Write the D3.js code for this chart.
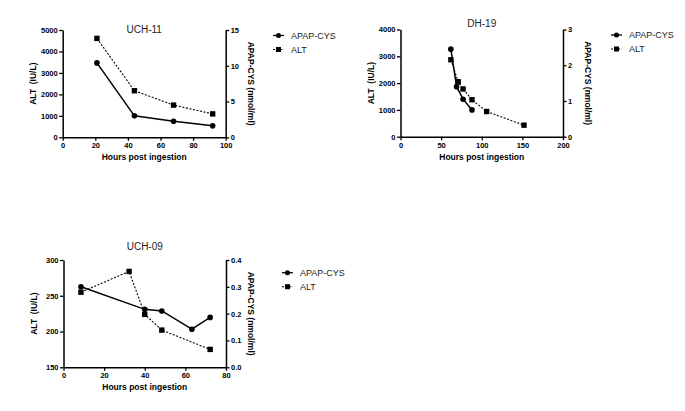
<!DOCTYPE html>
<html>
<head>
<meta charset="utf-8">
<script src="https://cdn.jsdelivr.net/npm/d3@7/dist/d3.min.js"></script>
<style>
  html, body { margin: 0; padding: 0; background: #ffffff; }
  svg { display: block; font-family: Arial, "Liberation Sans", sans-serif; }
</style>
</head>
<body>
<svg id="chart" width="685" height="411"></svg>
<script>
// ---------------- DATA ----------------
const seriesNames = ["APAP-CYS", "ALT"];

// UCH-11
const uch11ApapHours = [21, 44, 68, 92];
const uch11Apap      = [10.4, 3.0, 2.25, 1.6];
const uch11AltHours  = [21, 44, 68, 92];
const uch11Alt       = [4610, 2170, 1500, 1090];
const uch11XTicks    = [0, 20, 40, 60, 80, 100];
const uch11AltTicks  = [0, 1000, 2000, 3000, 4000, 5000];
const uch11ApapTicks = [0, 5, 10, 15];

// DH-19
const dh19ApapHours = [62, 69, 77, 88];
const dh19Apap      = [2.45, 1.4, 1.05, 0.75];
const dh19AltHours  = [62, 71, 77, 88, 106, 152];
const dh19Alt       = [2870, 2050, 1780, 1380, 940, 430];
const dh19XTicks    = [0, 50, 100, 150, 200];
const dh19AltTicks  = [0, 1000, 2000, 3000, 4000];
const dh19ApapTicks = [0, 1, 2, 3];

// UCH-09
const uch09ApapHours = [8.6, 40, 48.4, 63.2, 72.2];
const uch09Apap      = [0.30, 0.216, 0.21, 0.142, 0.186];
const uch09AltHours  = [8.6, 32.3, 40, 48.4, 72.2];
const uch09Alt       = [255, 284, 224, 202, 175];
const uch09XTicks    = [0, 20, 40, 60, 80];
const uch09AltTicks  = [150, 200, 250, 300];
const uch09ApapTicks = [0.0, 0.1, 0.2, 0.3, 0.4];

// ---------------- DRAW ----------------
const svg = d3.select("#chart");

function drawPanel(cfg) {
  const g = svg.append("g");
  const x = d3.scaleLinear().domain(d3.extent(cfg.xTicks)).range([cfg.left, cfg.right]);
  const yL = d3.scaleLinear().domain(d3.extent(cfg.altTicks)).range([cfg.bottom, cfg.top]);
  const yR = d3.scaleLinear().domain(d3.extent(cfg.apapTicks)).range([cfg.bottom, cfg.top]);

  const styleAxis = sel => {
    sel.select(".domain").attr("stroke", "#000").attr("stroke-width", 1.5);
    sel.selectAll(".tick line").attr("stroke", "#000").attr("stroke-width", 1.3);
    sel.selectAll(".tick text").attr("font-size", "7.5px").attr("font-weight", "bold")
       .attr("fill", "#000").attr("font-family", "Arial, 'Liberation Sans', sans-serif");
  };

  g.append("g").attr("transform", `translate(0,${cfg.bottom})`)
    .call(d3.axisBottom(x).tickValues(cfg.xTicks).tickFormat(d3.format("d")).tickSize(3.5).tickSizeOuter(0).tickPadding(2))
    .call(styleAxis);
  g.append("g").attr("transform", `translate(${cfg.left},0)`)
    .call(d3.axisLeft(yL).tickValues(cfg.altTicks).tickFormat(d3.format("d")).tickSize(3.5).tickSizeOuter(0).tickPadding(1.5))
    .call(styleAxis);
  g.append("g").attr("transform", `translate(${cfg.right},0)`)
    .call(d3.axisRight(yR).tickValues(cfg.apapTicks).tickFormat(cfg.apapFmt).tickSize(3.5).tickSizeOuter(0).tickPadding(1.5))
    .call(styleAxis);

  // titles
  g.append("text").attr("x", (cfg.left + cfg.right) / 2).attr("y", cfg.titleY)
    .attr("text-anchor", "middle").attr("font-size", "10px").attr("fill", "#222").text(cfg.title);
  g.append("text").attr("x", (cfg.left + cfg.right) / 2).attr("y", cfg.bottom + 23)
    .attr("text-anchor", "middle").attr("font-size", "8.5px").attr("font-weight", "bold").text("Hours post ingestion");
  const cy = (cfg.top + cfg.bottom) / 2;
  g.append("text").attr("transform", `translate(${cfg.left - 27},${cy}) rotate(-90)`)
    .attr("text-anchor", "middle").attr("font-size", "8.5px").attr("font-weight", "bold")
    .style("white-space", "pre").text("ALT  (IU/L)");
  g.append("text").attr("transform", `translate(${cfg.right + 22},${cy}) rotate(90)`)
    .attr("text-anchor", "middle").attr("font-size", "8.5px").attr("font-weight", "bold")
    .text("APAP-CYS (nmol/ml)");

  // ALT series (dashed, squares) on left axis
  const altPts = cfg.altHours.map((h, i) => [x(h), yL(cfg.alt[i])]);
  g.append("path").attr("d", d3.line()(altPts)).attr("fill", "none")
    .attr("stroke", "#000").attr("stroke-width", 1.1).attr("stroke-dasharray", "2,1.6");
  g.selectAll(null).data(altPts).enter().append("rect")
    .attr("x", d => d[0] - 2.7).attr("y", d => d[1] - 2.7).attr("width", 5.4).attr("height", 5.4).attr("fill", "#000");

  // APAP-CYS series (solid, circles) on right axis
  const apPts = cfg.apapHours.map((h, i) => [x(h), yR(cfg.apap[i])]);
  g.append("path").attr("d", d3.line()(apPts)).attr("fill", "none")
    .attr("stroke", "#000").attr("stroke-width", 1.5);
  g.selectAll(null).data(apPts).enter().append("circle")
    .attr("cx", d => d[0]).attr("cy", d => d[1]).attr("r", 2.8).attr("fill", "#000");

  // legend
  const lg = g.append("g").attr("transform", `translate(${cfg.legX},${cfg.legY})`);
  seriesNames.forEach((name, i) => {
    const yy = i * 14;
    lg.append("line").attr("x1", 0).attr("x2", 11).attr("y1", yy).attr("y2", yy)
      .attr("stroke", "#000").attr("stroke-width", i === 0 ? 1.3 : 1.1)
      .attr("stroke-dasharray", i === 0 ? null : "2,1.6");
    if (i === 0) lg.append("circle").attr("cx", 5.5).attr("cy", yy).attr("r", 2.5).attr("fill", "#000");
    else lg.append("rect").attr("x", 3).attr("y", yy - 2.5).attr("width", 5).attr("height", 5).attr("fill", "#000");
    lg.append("text").attr("x", 18).attr("y", yy + 3.2).attr("font-size", "9px").attr("fill", "#222").text(name);
  });
}

drawPanel({
  title: "UCH-11", titleY: 33,
  left: 62.7, right: 225.7, top: 30, bottom: 137.3,
  xTicks: uch11XTicks, altTicks: uch11AltTicks, apapTicks: uch11ApapTicks, apapFmt: d3.format("d"),
  altHours: uch11AltHours, alt: uch11Alt, apapHours: uch11ApapHours, apap: uch11Apap,
  legX: 273, legY: 35.5
});
drawPanel({
  title: "DH-19", titleY: 26.5,
  left: 400.5, right: 563, top: 29.5, bottom: 136.7,
  xTicks: dh19XTicks, altTicks: dh19AltTicks, apapTicks: dh19ApapTicks, apapFmt: d3.format("d"),
  altHours: dh19AltHours, alt: dh19Alt, apapHours: dh19ApapHours, apap: dh19Apap,
  legX: 611, legY: 35
});
drawPanel({
  title: "UCH-09", titleY: 249.5,
  left: 63.5, right: 226, top: 260, bottom: 367.3,
  xTicks: uch09XTicks, altTicks: uch09AltTicks, apapTicks: uch09ApapTicks, apapFmt: d3.format(".1f"),
  altHours: uch09AltHours, alt: uch09Alt, apapHours: uch09ApapHours, apap: uch09Apap,
  legX: 282, legY: 272.7
});
</script>
</body>
</html>
